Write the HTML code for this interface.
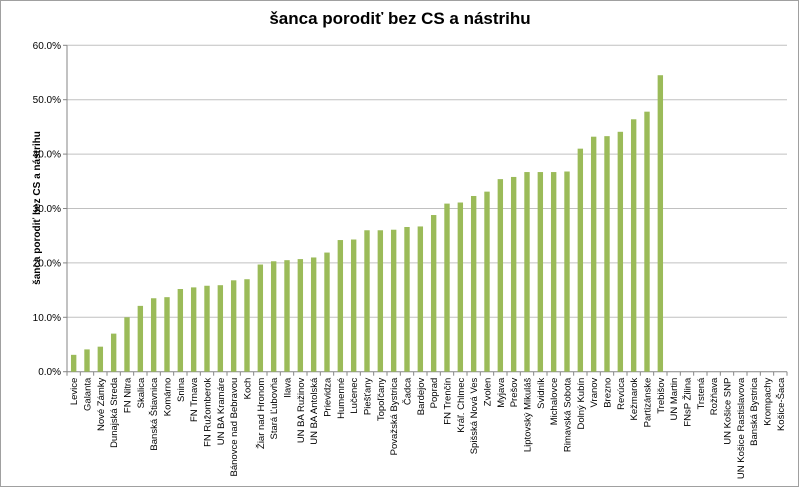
<!DOCTYPE html>
<html><head><meta charset="utf-8"><style>
body{margin:0;background:#fff}
svg{display:block;font-family:"Liberation Sans",sans-serif}
</style></head><body>
<svg width="800" height="488" viewBox="0 0 800 488">
<rect x="0.5" y="0.5" width="798" height="486" fill="#fff" stroke="#a0a0a0"/>
<text x="400" y="24" text-anchor="middle" font-size="17" font-weight="bold" fill="#000">šanca porodiť bez CS a nástrihu</text>
<text transform="translate(40,208) rotate(-90)" text-anchor="middle" font-size="10" font-weight="bold" fill="#000">šanca porodiť bez CS a nástrihu</text>
<g id="grid"></g><g id="bars"></g><g id="xlabels"></g>
</svg>
<script>
const categories=["Levice","Galanta","Nové Zámky","Dunajská Streda","FN Nitra","Skalica","Banská Štiavnica","Komárno","Snina","FN Trnava","FN Ružomberok","UN BA Kramáre","Bánovce nad Bebravou","Koch","Žiar nad Hronom","Stará Ľubovňa","Ilava","UN BA Ružinov","UN BA Antolská","Prievidza","Humenné","Lučenec","Piešťany","Topoľčany","Považská Bystrica","Čadca","Bardejov","Poprad","FN Trenčín","Kráľ. Chlmec","Spišská Nová Ves","Zvolen","Myjava","Prešov","Liptovský Mikuláš","Svidník","Michalovce","Rimavská Sobota","Dolný Kubín","Vranov","Brezno","Revúca","Kežmarok","Partizánske","Trebišov","UN Martin","FNsP Žilina","Trstená","Rožňava","UN Košice SNP","UN Košice Rastislavova","Banská Bystrica","Krompachy","Košice-Šaca"];
const values=[3.1,4.1,4.6,7.0,10.0,12.1,13.5,13.7,15.2,15.5,15.8,15.9,16.8,17.0,19.7,20.3,20.5,20.7,21.0,21.9,24.2,24.3,26.0,26.0,26.1,26.6,26.7,28.8,30.9,31.1,32.3,33.1,35.4,35.8,36.7,36.7,36.7,36.8,41.0,43.2,43.3,44.1,46.4,47.8,54.5,0,0,0,0,0,0,0,0,0];
const yTicks=[0,10,20,30,40,50,60];
const NS="http://www.w3.org/2000/svg";
const L=67,R=787,T=45.3,B=371.7;
const y=v=>B-(v/60)*(B-T);
const step=(R-L)/categories.length;
const x=i=>L+step*(i+0.5);
function mk(tag,attrs,parent){const e=document.createElementNS(NS,tag);for(const k in attrs)e.setAttribute(k,attrs[k]);parent.appendChild(e);return e;}
const grid=document.getElementById('grid'),bars=document.getElementById('bars'),xl=document.getElementById('xlabels');
yTicks.forEach(t=>{
  const ln=mk('line',{x1:L,x2:R,y1:y(t),y2:y(t),stroke:t===0?'#868686':'#c0c0c0','stroke-width':1},grid);
  
  
  const tk=mk('line',{x1:L-4,x2:L,y1:y(t),y2:y(t),stroke:'#868686'},grid);
  
  
  const tx=mk('text',{x:L-6,y:y(t)+3.5,'text-anchor':'end','font-size':10,fill:'#000'},grid);
  tx.textContent=t.toFixed(1)+'%';
  
  
});
const ax=mk('line',{x1:L,x2:L,y1:T,y2:B,stroke:'#868686'},grid);


for(let i=0;i<=categories.length;i++){
  const tk=mk('line',{x1:L+step*i,x2:L+step*i,y1:B,y2:B+4,stroke:'#868686'},grid);
  
  
}
categories.forEach((c,i)=>{
  const v=values[i];
  if(v>0){
    const r=mk('rect',{x:x(i)-2.7,y:y(v),width:5.4,height:B-y(v),fill:'#9bbb59'},bars);
    
    
  }
  const t=mk('text',{transform:`translate(${x(i)+3.5},${B+6}) rotate(-90)`,'text-anchor':'end','font-size':9.5,fill:'#000'},xl);
  t.textContent=c;
  
  
});
</script>
</body></html>
